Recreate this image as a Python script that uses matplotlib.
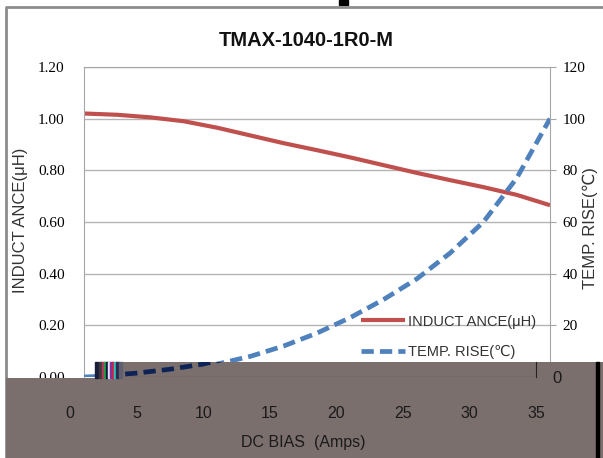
import matplotlib.pyplot as plt
from matplotlib.patches import Polygon, Rectangle
from matplotlib.lines import Line2D

W, H = 603, 458

# data
amps = [0, 2.5, 5, 7.5, 10, 12.5, 15, 17.5, 20, 22.5, 25, 27.5, 30, 32.5, 35]
inductance = [1.02, 1.015, 1.005, 0.99, 0.965, 0.935, 0.905, 0.878, 0.85,
              0.82, 0.79, 0.762, 0.735, 0.705, 0.665]
temp_rise = [0, 0.5, 1.5, 3, 5, 8, 12, 17, 23, 30, 38, 48, 60, 77, 100]

x_ticks = [0, 5, 10, 15, 20, 25, 30, 35]
ind_ticks = [0.0, 0.2, 0.4, 0.6, 0.8, 1.0, 1.2]
temp_ticks = [0, 20, 40, 60, 80, 100, 120]

title = 'TMAX-1040-1R0-M'
ind_label = 'INDUCT ANCE(μH)'
temp_label = 'TEMP. RISE(℃)'
x_label = 'DC BIAS  (Amps)'

RED = '#c0504d'
BLUE = '#4f81bd'
BAND = '#7b6f6e'
GRID = '#b4b4b4'

sans = ['Liberation Sans', 'DejaVu Sans']
serif = ['Liberation Serif', 'DejaVu Serif']


def fx(px):
    return px / W


def fy(py):
    return 1 - py / H


fig = plt.figure(figsize=(W / 100, H / 100), dpi=100)

# plot area in pixels: x 84..550, y 67..377
L, R, T, B = 84, 550, 67, 377
ax = fig.add_axes([fx(L), fy(B), (R - L) / W, (B - T) / H])
ax.set_zorder(0)
ax.plot(amps, inductance, color=RED, lw=3.0, solid_capstyle='butt', label=ind_label)
ax.set_xlim(0, 35)
ax.set_ylim(0, 1.2)
ax.set_yticks(ind_ticks)
ax.set_yticklabels(['%.2f' % v for v in ind_ticks], family=serif, fontsize=11)
ax.tick_params(axis='y', length=0, pad=14)
ax.set_xticks([])
ax.grid(axis='y', color=GRID, lw=1)
ax.set_axisbelow(True)
for s in ['left', 'top', 'right']:
    ax.spines[s].set_color('#a6a6a6')
ax.spines['bottom'].set_visible(False)
ax.set_ylabel(ind_label, family=sans, fontsize=12, color='#333333', va='center')
ax.yaxis.set_label_coords((21 - L) / (R - L), (B - 220) / (B - T))

ax2 = ax.twinx()
ax2.set_zorder(1)
ax2.plot(amps, temp_rise, color=BLUE, lw=3.4, dashes=(2.6, 1.3), label=temp_label)
ax2.set_ylim(0, 120)
ax2.set_yticks(temp_ticks)
ax2.set_yticklabels([str(v) for v in temp_ticks], family=serif, fontsize=11)
ax2.tick_params(axis='y', length=4, color='#a6a6a6', pad=5)
for s in ax2.spines.values():
    s.set_visible(False)
ax2.set_ylabel(temp_label, family=sans, fontsize=12, color='#333333',
               rotation=90, va='center')
ax2.yaxis.set_label_coords((590 - L) / (R - L), (B - 228) / (B - T))

h1, l1 = ax.get_legend_handles_labels()
h2, l2 = ax2.get_legend_handles_labels()
leg = ax2.legend(h1 + h2, l1 + l2, loc='center left', frameon=False,
                 bbox_to_anchor=(fx(361), fy(337)), bbox_transform=fig.transFigure,
                 borderpad=0, borderaxespad=0, handlelength=3.0, handletextpad=0.2,
                 labelspacing=1.15, prop={'family': sans, 'size': 10.5})
for t in leg.get_texts():
    t.set_color('#333333')

fig.text(fx(306), fy(40), title, ha='center', va='center', fontsize=14.5,
         fontweight='bold', family=sans, color='#111111')

# outer chart frame
fig.add_artist(Line2D([fx(6), fx(6), fx(603)], [fy(458), fy(7), fy(7)],
                      color='#8c8c8c', lw=2, transform=fig.transFigure))
fig.add_artist(Rectangle((fx(339), fy(5)), 9 / W, 5 / H, color='black',
                         transform=fig.transFigure))

# broken band across the bottom of the picture
band = Polygon([(fx(95), fy(362)), (fx(603), fy(362)), (fx(603), fy(458)),
                (fx(6), fy(458)), (fx(6), fy(378)), (fx(95), fy(378))],
               closed=True, facecolor=BAND, edgecolor='none',
               transform=fig.transFigure, zorder=2)
fig.add_artist(band)

shift = 14
axb = fig.add_axes([fx(L - shift), fy(B), (R - L) / W, (B - T) / H])
axb.set_zorder(3)
axb.patch.set_visible(False)
nv, = axb.plot(amps, temp_rise, color='#0d2255', lw=3.4, dashes=(2.6, 1.3))
nv.set_clip_path(band)
axb.set_xlim(0, 35)
axb.set_ylim(0, 120)
axb.set_xticks(x_ticks)
axb.set_xticklabels([str(v) for v in x_ticks], family=sans, fontsize=11.5,
                    color='#1a1a1a')
axb.tick_params(axis='x', length=0, pad=21)
axb.yaxis.tick_right()
axb.set_yticks([0])
axb.set_yticklabels(['0'], family=sans, fontsize=12, color='#1a1a1a')
axb.tick_params(axis='y', length=0, pad=12)
for s in ['left', 'top']:
    axb.spines[s].set_visible(False)
axb.spines['bottom'].set_color('#222222')
axb.spines['bottom'].set_clip_path(band)
axb.spines['right'].set_color('#222222')
axb.spines['right'].set_bounds(0, 15 / (B - T) * 120)
axb.set_xlabel(x_label, family=sans, fontsize=11.5, color='#1a1a1a', labelpad=10)

# noisy pixels at the start of the band
for x0, c in [(95, '#1b1e3a'), (99, '#3a3a3a'), (102, '#c03060'), (104, '#20a040'),
              (106, '#101840'), (108, '#e0e0f0'), (110, '#8030a0'), (112, '#d02040'),
              (114, '#30c0c0'), (116, '#2a2d50'), (119, '#606070')]:
    fig.add_artist(Rectangle((fx(x0), fy(378)), 2.5 / W, 16 / H, color=c,
                             transform=fig.transFigure, zorder=4))

fig.add_artist(Rectangle((fx(596), fy(458)), 3 / W, 96 / H, color='black',
                         transform=fig.transFigure, zorder=4))

fig.savefig('out.png', dpi=100)
